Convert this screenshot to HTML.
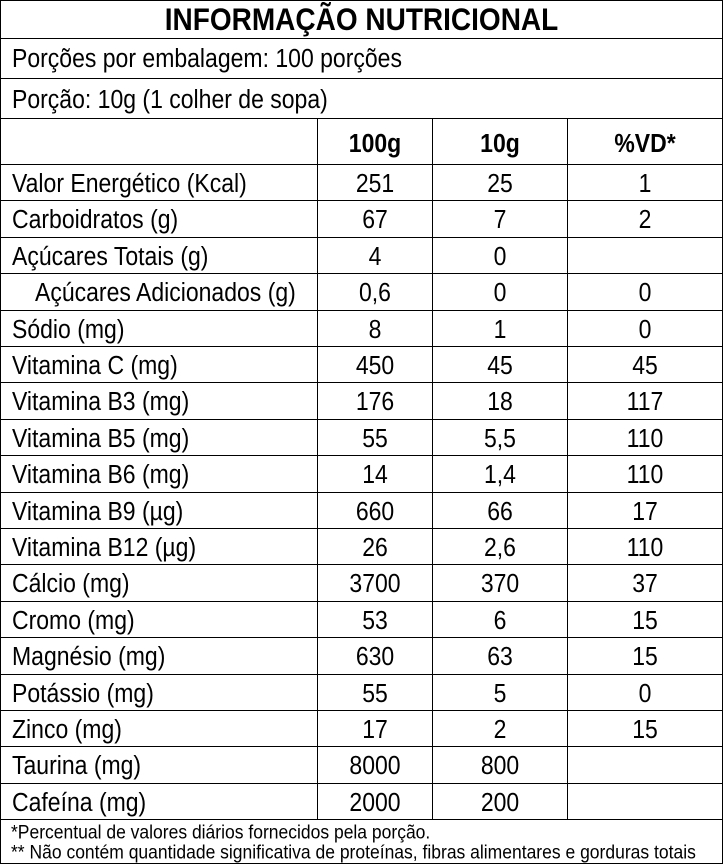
<!DOCTYPE html>
<html><head><meta charset="utf-8"><style>
body{margin:0;width:723px;height:864px;background:#fff;font-family:"Liberation Sans",Arial,sans-serif;color:#000;overflow:hidden}
.h{position:absolute;left:1px;width:721px;height:1px;background:#000}
.v{position:absolute;width:1px;background:#000}
.t{position:absolute;font-size:23px;line-height:36px;white-space:nowrap;transform:scaleY(1.12)}
.c{text-align:center}
</style></head><body>
<div style="position:absolute;left:0;top:0;width:721px;height:862px;border:1px solid #000"></div>
<div class="t c" style="left:0;width:723px;top:2px;font-size:28px;line-height:36px;font-weight:bold">INFORMAÇÃO NUTRICIONAL</div>
<div class="h" style="top:38px"></div>
<div class="t" style="left:12px;top:40px">Porções por embalagem: 100 porções</div>
<div class="h" style="top:78px"></div>
<div class="t" style="left:12px;top:81px">Porção: 10g (1 colher de sopa)</div>
<div class="h" style="top:118px"></div>
<div class="v" style="left:317px;top:118px;height:701px"></div>
<div class="v" style="left:432px;top:118px;height:701px"></div>
<div class="v" style="left:567px;top:118px;height:701px"></div>
<div class="t c" style="left:318px;width:114px;top:125px;font-weight:bold">100g</div>
<div class="t c" style="left:433px;width:134px;top:125px;font-weight:bold">10g</div>
<div class="t c" style="left:568px;width:154px;top:125px;font-weight:bold">%VD*</div>
<div id="rows"></div>
<div class="h" style="top:819px"></div>
<div class="t" style="left:11px;top:822px;font-size:17.5px;line-height:20px">*Percentual de valores diários fornecidos pela porção.</div>
<div class="t" style="left:11px;top:842px;font-size:17.5px;line-height:20px">** Não contém quantidade significativa de proteínas, fibras alimentares e gorduras totais</div>
<script>
var d=[["Valor Energético (Kcal)","251","25","1"],["Carboidratos (g)","67","7","2"],["Açúcares Totais (g)","4","0",""],["   Açúcares Adicionados (g)","0,6","0","0"],["Sódio (mg)","8","1","0"],["Vitamina C (mg)","450","45","45"],["Vitamina B3 (mg)","176","18","117"],["Vitamina B5 (mg)","55","5,5","110"],["Vitamina B6 (mg)","14","1,4","110"],["Vitamina B9 (µg)","660","66","17"],["Vitamina B12 (µg)","26","2,6","110"],["Cálcio (mg)","3700","370","37"],["Cromo (mg)","53","6","15"],["Magnésio (mg)","630","63","15"],["Potássio (mg)","55","5","0"],["Zinco (mg)","17","2","15"],["Taurina (mg)","8000","800",""],["Cafeína (mg)","2000","200",""]];
var h="";
for(var i=0;i<d.length;i++){var y=164+i*36.4;h+='<div class="h" style="top:'+Math.round(y)+'px"></div>';var ty=Math.round(y+1);
var l=d[i][0].indexOf("   ")==0?35:12;
h+='<div class="t" style="left:'+l+'px;top:'+ty+'px">'+d[i][0].trim()+'</div>';
h+='<div class="t c" style="left:318px;width:114px;top:'+ty+'px">'+d[i][1]+'</div>';
h+='<div class="t c" style="left:433px;width:134px;top:'+ty+'px">'+d[i][2]+'</div>';
h+='<div class="t c" style="left:568px;width:154px;top:'+ty+'px">'+d[i][3]+'</div>';}
document.getElementById("rows").innerHTML=h;
</script>
</body></html>
